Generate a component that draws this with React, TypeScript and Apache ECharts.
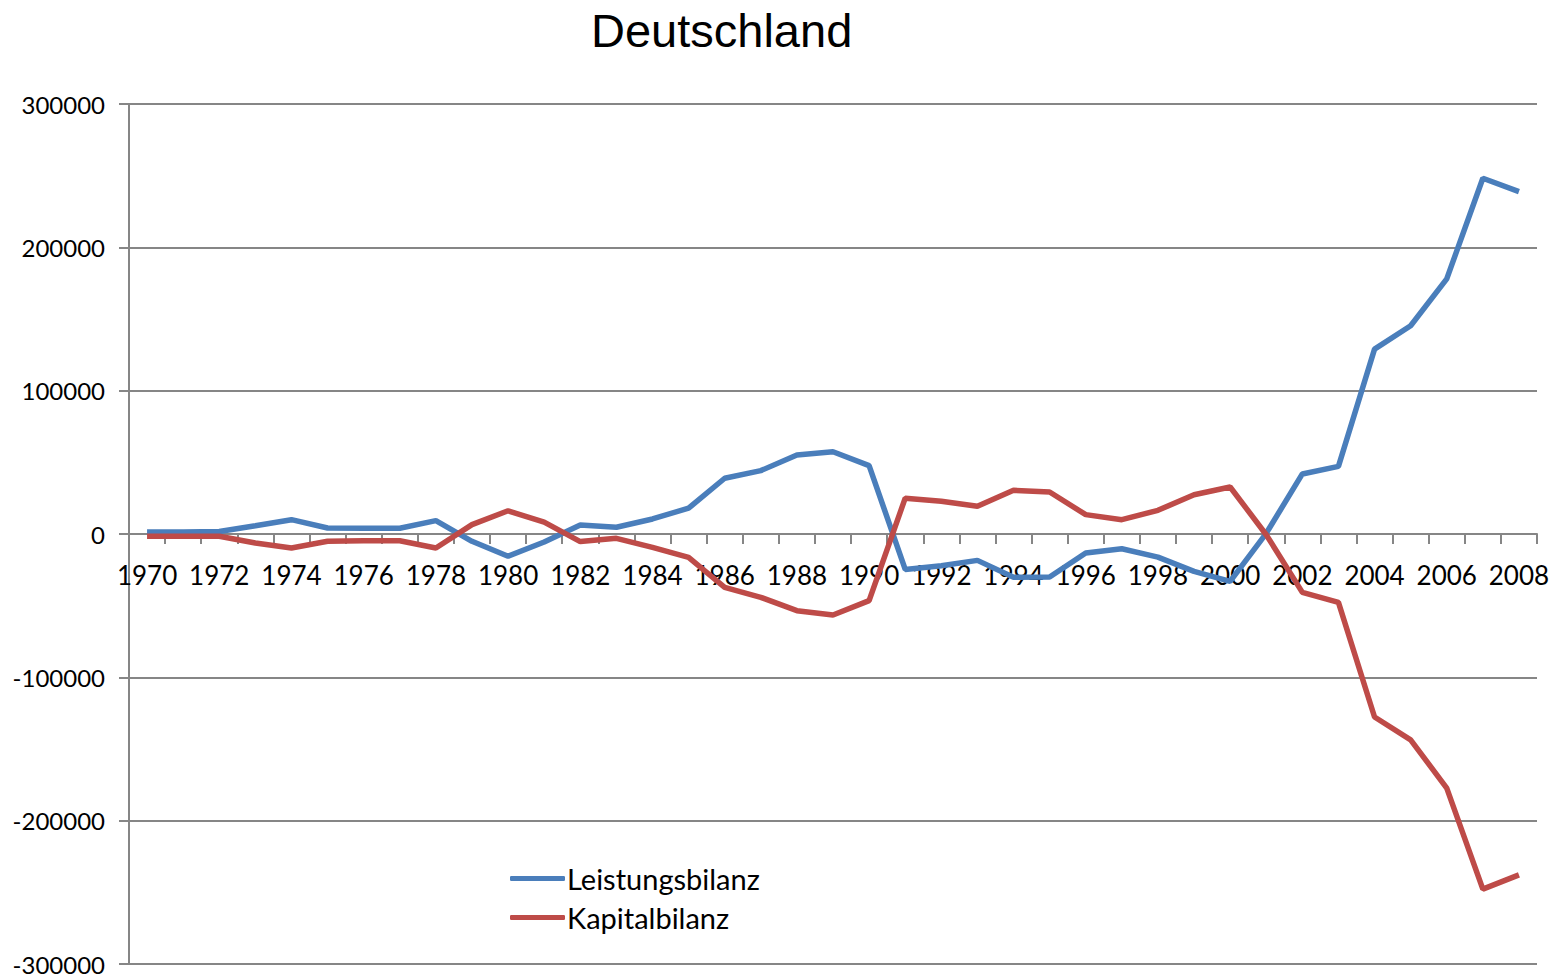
import React, { useEffect, useRef } from "react";
import * as echarts from "echarts";

const years: string[] = [];
for (let y = 1970; y <= 2008; y++) years.push(String(y));

const leistungsbilanz = [
  1400, 1400, 1800, 5800, 10000, 4200, 4000, 4000, 9300, -5100,
  -15500, -5600, 6300, 4700, 10500, 18000, 38900, 44200, 55100, 57400,
  47700, -24700, -22200, -18400, -30100, -30000, -13300, -10300, -16100, -26100,
  -33100, 500, 41900, 47200, 129000, 145300, 178000, 248200, 238900,
];

const kapitalbilanz = [
  -1600, -1600, -1600, -6300, -9800, -5100, -4700, -4700, -9800, 6500,
  16200, 8300, -5300, -3000, -9300, -16300, -37200, -44200, -53500, -56500,
  -46500, 25000, 22800, 19300, 30500, 29300, 13500, 10000, 16500, 27400,
  32800, -500, -40700, -47700, -127700, -143600, -177300, -247800, -237800,
];

const seriesNames = ["Leistungsbilanz", "Kapitalbilanz"];
const seriesColors = ["#4A7EBB", "#BE4B48"];

export default function App() {
  const ref = useRef<HTMLDivElement>(null);
  useEffect(() => {
    if (!ref.current) return;
    const chart = echarts.init(ref.current, null, { renderer: "svg" });
    const gray = "#868686";
    const gridTop = 104;
    const gridBottomY = 964;
    const zeroOffset = -(gridBottomY - (gridTop + gridBottomY) / 2);
    chart.setOption({
      animation: false,
      backgroundColor: "#ffffff",
      title: {
        text: "Deutschland",
        left: 586,
        top: 2,
        textStyle: {
          fontFamily: "Liberation Sans, Arial, sans-serif",
          fontSize: 47,
          fontWeight: "normal",
          color: "#000",
        },
      },
      legend: {
        orient: "vertical",
        left: 505,
        top: 859,
        icon: "roundRect",
        itemWidth: 55,
        itemHeight: 5,
        itemGap: 10,
        data: seriesNames,
        textStyle: {
          fontFamily: "Lato, sans-serif",
          fontSize: 29,
          color: "#000",
          padding: [0, 0, 0, -3],
        },
      },
      grid: {
        left: 129,
        right: 15,
        top: gridTop,
        bottom: 976 - gridBottomY,
        containLabel: false,
        outerBoundsMode: "none",
      },
      xAxis: {
        type: "category",
        data: years,
        boundaryGap: true,
        position: "bottom",
        offset: zeroOffset,
        axisLine: { onZero: false, lineStyle: { color: gray, width: 2 } },
        axisTick: {
          show: true,
          inside: false,
          length: 10,
          interval: 0,
          lineStyle: { color: gray, width: 2 },
        },
        axisLabel: {
          interval: 1,
          margin: 28,
          fontFamily: "Lato, sans-serif",
          fontSize: 26,
          color: "#000",
        },
        splitLine: { show: false },
      },
      yAxis: {
        type: "value",
        min: -300000,
        max: 300000,
        interval: 100000,
        axisLine: { show: true, lineStyle: { color: gray, width: 2 } },
        axisTick: { show: true, length: 10, lineStyle: { color: gray, width: 2 } },
        axisLabel: {
          margin: 24,
          fontFamily: "Lato, sans-serif",
          fontSize: 24,
          color: "#000",
          formatter: (v: number) => String(v),
        },
        splitLine: { show: true, lineStyle: { color: gray, width: 2 } },
      },
      series: [
        {
          name: seriesNames[0],
          type: "line",
          data: leistungsbilanz,
          symbol: "none",
          color: seriesColors[0],
          lineStyle: { width: 5.5, color: seriesColors[0] },
        },
        {
          name: seriesNames[1],
          type: "line",
          data: kapitalbilanz,
          symbol: "none",
          color: seriesColors[1],
          lineStyle: { width: 5.5, color: seriesColors[1] },
        },
      ],
    });
    return () => chart.dispose();
  }, []);
  return (
    <div
      ref={ref}
      style={{ position: "fixed", left: 0, top: 0, width: 1552, height: 976 }}
    />
  );
}
